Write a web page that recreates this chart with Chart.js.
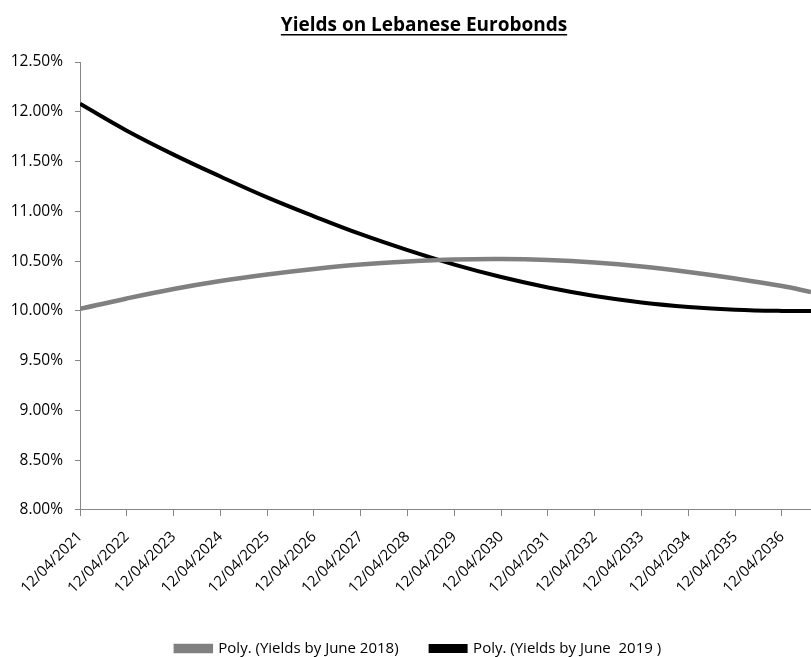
<!DOCTYPE html>
<html lang="en">
<head>
    <meta charset="UTF-8">
    <style>
        body {
            margin: 0;
            padding: 0;
            background: #ffffff;
        }
        .chart-box {
            width: 811px;
            height: 657px;
            position: relative;
        }
    </style>
    <script src="https://cdn.jsdelivr.net/npm/chart.js"></script>
</head>
<body>
    <div class="chart-box">
        <canvas id="yieldChart"></canvas>
    </div>

    <script>
        // tick dates along the x axis (one per year)
        const dateLabels = [
            '12/04/2021', '12/04/2022', '12/04/2023', '12/04/2024',
            '12/04/2025', '12/04/2026', '12/04/2027', '12/04/2028',
            '12/04/2029', '12/04/2030', '12/04/2031', '12/04/2032',
            '12/04/2033', '12/04/2034', '12/04/2035', '12/04/2036'
        ];
        // position of each sample, in years after 12/04/2021 (last one is where the picture is cut)
        const samplePos = [0, 1, 2, 3, 4, 5, 6, 7, 8, 9, 10, 11, 12, 13, 14, 15, 15.62];
        // polynomial trend of yields, percent
        const yields2018 = [10.02, 10.125, 10.22, 10.30, 10.365, 10.42, 10.465, 10.495, 10.515, 10.52, 10.51, 10.485, 10.445, 10.39, 10.325, 10.25, 10.19];
        const yields2019 = [12.08, 11.81, 11.57, 11.35, 11.14, 10.95, 10.77, 10.61, 10.465, 10.34, 10.235, 10.15, 10.085, 10.04, 10.012, 10.00, 10.00];

        const toPoints = (vals) => vals.map((v, i) => ({ x: samplePos[i], y: v }));

        const font = "'Open Sans', sans-serif";
        const axisGray = '#868686';

        const titlePlugin = {
            id: 'underlinedTitle',
            afterLayout(chart) {
                // the legend sits a little right of the canvas centre in the original
                chart.legend.left += 13;
                chart.legend.right += 13;
            },
            afterDraw(chart) {
                const ctx = chart.ctx;
                const text = 'Yields on Lebanese Eurobonds';
                ctx.save();
                ctx.font = "bold 19px " + font;
                ctx.fillStyle = '#000';
                ctx.textAlign = 'center';
                ctx.textBaseline = 'alphabetic';
                const cx = 424, by = 31;
                ctx.fillText(text, cx, by);
                const w = ctx.measureText(text).width;
                ctx.fillRect(cx - w / 2, by + 3, w, 1.5);
                ctx.restore();
            }
        };

        const ctx = document.getElementById('yieldChart').getContext('2d');
        new Chart(ctx, {
            type: 'line',
            data: {
                datasets: [
                    {
                        label: 'Poly. (Yields by June 2018)',
                        data: toPoints(yields2018),
                        borderColor: '#808080',
                        backgroundColor: '#808080',
                        borderWidth: 4.5,
                        pointRadius: 0,
                        tension: 0.4
                    },
                    {
                        label: 'Poly. (Yields by June  2019 )',
                        data: toPoints(yields2019),
                        borderColor: '#000000',
                        backgroundColor: '#000000',
                        borderWidth: 4,
                        pointRadius: 0,
                        tension: 0.4
                    }
                ]
            },
            options: {
                responsive: true,
                maintainAspectRatio: false,
                animation: false,
                layout: {
                    padding: { top: 62, right: 0, bottom: -9, left: 0 }
                },
                scales: {
                    x: {
                        type: 'linear',
                        min: 0,
                        max: samplePos[samplePos.length - 1],
                        border: { color: axisGray, width: 1 },
                        grid: {
                            drawOnChartArea: false,
                            drawTicks: true,
                            tickLength: 6,
                            color: axisGray
                        },
                        ticks: {
                            stepSize: 1,
                            includeBounds: false,
                            autoSkip: false,
                            maxRotation: 45,
                            minRotation: 45,
                            padding: 12,
                            color: '#000',
                            font: { family: font, size: 15 },
                            callback: (v) => dateLabels[v]
                        }
                    },
                    y: {
                        min: 8,
                        max: 12.5,
                        border: { color: axisGray, width: 1 },
                        grid: {
                            drawOnChartArea: false,
                            drawTicks: true,
                            tickLength: 5,
                            color: axisGray
                        },
                        ticks: {
                            stepSize: 0.5,
                            padding: 12,
                            color: '#000',
                            font: { family: font, size: 15.5 },
                            callback: (v) => v.toFixed(2) + '%'
                        },
                        afterFit: (scale) => { scale.width = 80; }
                    }
                },
                plugins: {
                    legend: {
                        position: 'bottom',
                        labels: {
                            boxWidth: 35,
                            boxHeight: 5,
                            padding: 32,
                            color: '#000',
                            font: { family: font, size: 15 }
                        }
                    },
                    tooltip: { enabled: false }
                }
            },
            plugins: [titlePlugin]
        });
    </script>
</body>
</html>
